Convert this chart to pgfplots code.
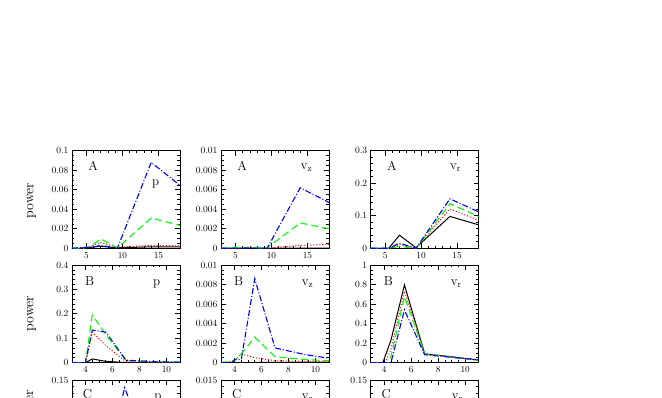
\documentclass[border=0pt]{standalone}
\usepackage{pgfplots}
\pgfplotsset{compat=1.18}
\definecolor{pgreen}{rgb}{0,1,0}
\definecolor{pblue}{rgb}{0,0,1}
\definecolor{pred}{rgb}{1,0,0}
\pgfplotsset{
  panel/.style={scale only axis, width=108pt, height=97.6pt, anchor=north west,
    tick align=inside, major tick length=5pt, minor tick length=2.5pt,
    axis line style={line width=0.8pt}, every tick/.style={black, line width=0.6pt},
    tick label style={font=\fontsize{9.5}{10}\selectfont},
    scaled ticks=false, ymin=0, clip=true,
    xticklabel style={yshift=-0.5pt}},
  rowA/.style={xmin=3, xmax=18, xtick={5,10,15}, minor x tick num=4},
  rowB/.style={xmin=3, xmax=11, xtick={4,6,8,10}, minor x tick num=3},
  blk/.style={black, line width=1pt},
  rdd/.style={pred, line width=1.4pt, line cap=round, dash pattern=on 0pt off 3pt},
  grn/.style={pgreen, line width=1.1pt, dash pattern=on 7pt off 4pt},
  blu/.style={pblue, line width=1.1pt, dash pattern=on 6pt off 2pt on 1pt off 2pt},
}
\tikzset{lab/.style={font=\fontsize{13}{14}\selectfont, anchor=base west, inner sep=0pt}}
\begin{document}
\begin{tikzpicture}
\path[use as bounding box] (0pt,0pt) rectangle (662pt,-398pt);
\clip (0pt,0pt) rectangle (662pt,-398pt);

% ylabels
\node[rotate=90, font=\fontsize{14}{16}\selectfont] at (31.5pt,-200.5pt) {power};
\node[rotate=90, font=\fontsize{14}{16}\selectfont] at (31.5pt,-313.5pt) {power};
\node[rotate=90, font=\fontsize{14}{16}\selectfont, anchor=south east, inner sep=0pt] at (36pt,-389.5pt) {power};

% ---------------- Row A ----------------
\begin{axis}[panel, rowA, at={(72pt,-150.7pt)}, ymax=0.1, ytick={0,0.02,0.04,0.06,0.08,0.1},
  yticklabels={0,0.02,0.04,0.06,0.08,0.1}, minor y tick num=3]
\addplot[blk] coordinates {(3,0)(4,0)(4.5,0.0005)(5.5,0.001)(7,0.002)(9.3,0.0005)(14,0.0015)(18,0.0015)};
\addplot[rdd] coordinates {(3,0)(4,0)(4.5,0)(5.5,0.002)(7,0.006)(9.3,0.001)(14,0.003)(18,0.0025)};
\addplot[grn] coordinates {(3,0)(4.5,0)(5.5,0.002)(7,0.0095)(9.3,0.0005)(14,0.031)(18,0.0235)};
\addplot[blu] coordinates {(3,0)(4,0.0005)(4.5,0.001)(5.5,0.0005)(7,0.003)(9.3,0)(14,0.088)(18,0.0645)};
\node[lab] at (axis description cs:0.15,0.795) {A};
\node[lab] at (axis description cs:0.741,0.645) {p};
\end{axis}

\begin{axis}[panel, rowA, at={(221pt,-150.7pt)}, ymax=0.01, ytick={0,0.002,0.004,0.006,0.008,0.01},
  yticklabels={0,0.002,0.004,0.006,0.008,0.01}, minor y tick num=3]
\addplot[blk] coordinates {(3,0)(7,0.00003)(9.3,0)(14,0.00003)(18,0.00003)};
\addplot[rdd] coordinates {(3,0)(5.5,0)(7,0.0001)(9.3,0)(14,0.0003)(18,0.0004)};
\addplot[grn] coordinates {(3,0)(5.5,0.0001)(7,0.0001)(9.3,0)(14,0.0026)(18,0.002)};
\addplot[blu] coordinates {(3,0)(7,0.00003)(9.4,0)(14,0.0062)(18,0.0047)};
\node[lab] at (axis description cs:0.15,0.795) {A};
\node[lab] at (axis description cs:0.738,0.81) {v$_{\mathrm{z}}$};
\end{axis}

\begin{axis}[panel, rowA, at={(370.7pt,-150.7pt)}, ymax=0.3, ytick={0,0.1,0.2,0.3},
  yticklabels={0,0.1,0.2,0.3}, minor y tick num=4]
\addplot[blk] coordinates {(3,0)(5.5,0)(7,0.04)(9.3,0.002)(14,0.098)(18,0.072)};
\addplot[rdd] coordinates {(3,0)(5.5,0)(7,0.012)(9.3,0.001)(14,0.121)(18,0.086)};
\addplot[grn] coordinates {(3,0)(5.5,0)(7,0.006)(9.3,0)(14,0.137)(18,0.098)};
\addplot[blu] coordinates {(3,0)(5.5,0)(7,0.016)(9.3,0)(14,0.152)(18,0.112)};
\node[lab] at (axis description cs:0.15,0.795) {A};
\node[lab] at (axis description cs:0.734,0.81) {v$_{\mathrm{r}}$};
\end{axis}

% ---------------- Row B ----------------
\begin{axis}[panel, rowB, at={(72pt,-265pt)}, ymax=0.4, ytick={0,0.1,0.2,0.3,0.4},
  yticklabels={0,0.1,0.2,0.3,0.4}, minor y tick num=4]
\addplot[blk] coordinates {(3,0)(4,0)(4.5,0.015)(5.5,0.005)(7,0)(11,0)};
\addplot[rdd] coordinates {(3,0)(4,0)(4.5,0.125)(5.5,0.07)(7,0.003)(9.3,0.002)(11,0.002)};
\addplot[grn] coordinates {(3,0)(4,0)(4.5,0.195)(5.5,0.115)(7,0.008)(9.3,0.004)(11,0.003)};
\addplot[blu] coordinates {(3,0)(4,0)(4.5,0.133)(5.5,0.125)(7,0.01)(9.3,0.003)(11,0.002)};
\node[lab] at (axis description cs:0.12,0.795) {B};
\node[lab] at (axis description cs:0.75,0.79) {p};
\end{axis}

\begin{axis}[panel, rowB, at={(221pt,-265pt)}, ymax=0.01, ytick={0,0.002,0.004,0.006,0.008,0.01},
  yticklabels={0,0.002,0.004,0.006,0.008,0.01}, minor y tick num=3]
\addplot[blk] coordinates {(3,0)(11,0.00003)};
\addplot[rdd] coordinates {(3,0)(4,0.0002)(4.5,0.0009)(5.5,0.0005)(7,0.0002)(9.3,0.0001)(11,0.0001)};
\addplot[grn] coordinates {(3,0)(4,0.0002)(4.5,0.0009)(5.5,0.0026)(7,0.0006)(9.3,0.0003)(11,0.0002)};
\addplot[blu] coordinates {(3,0)(3.8,0)(4,0.0003)(4.5,0.0003)(5.5,0.0086)(7,0.0015)(9.3,0.0008)(11,0.00045)};
\node[lab] at (axis description cs:0.12,0.795) {B};
\node[lab] at (axis description cs:0.747,0.79) {v$_{\mathrm{z}}$};
\end{axis}

\begin{axis}[panel, rowB, at={(370.7pt,-265pt)}, ymax=1, ytick={0,0.2,0.4,0.6,0.8,1},
  yticklabels={0,0.2,0.4,0.6,0.8,1}, minor y tick num=3]
\addplot[blk] coordinates {(3,0)(3.9,0)(4.5,0.23)(5.5,0.795)(7,0.09)(9.3,0.055)(11,0.025)};
\addplot[rdd] coordinates {(3,0)(4.1,0)(4.5,0.14)(5.5,0.73)(7,0.09)(9.3,0.05)(11,0.022)};
\addplot[grn] coordinates {(3,0)(4.3,0)(4.5,0.06)(5.5,0.675)(7,0.09)(9.3,0.05)(11,0.027)};
\addplot[blu] coordinates {(3,0)(4.5,0)(5.5,0.54)(7,0.08)(9.3,0.05)(11,0.03)};
\node[lab] at (axis description cs:0.12,0.795) {B};
\node[lab] at (axis description cs:0.74,0.79) {v$_{\mathrm{r}}$};
\end{axis}

% ---------------- Row C ----------------
\begin{axis}[panel, rowB, at={(72pt,-380pt)}, ymax=0.15, ytick={0,0.05,0.1,0.15},
  yticklabels={0,0.05,0.1,0.15}, minor y tick num=4]
\addplot[blu] coordinates {(3,0)(4.5,0.002)(5.5,0.016)(6.9,0.138)(9.3,0.008)(11,0.003)};
\node[lab] at (axis description cs:0.10,0.81) {C};
\node[lab] at (axis description cs:0.76,0.80) {p};
\end{axis}

\begin{axis}[panel, rowB, at={(221pt,-380pt)}, ymax=0.015, ytick={0,0.005,0.01,0.015},
  yticklabels={0,0.005,0.01,0.015}, minor y tick num=4]
\node[lab] at (axis description cs:0.10,0.81) {C};
\node[lab] at (axis description cs:0.748,0.80) {v$_{\mathrm{z}}$};
\end{axis}

\begin{axis}[panel, rowB, at={(370.7pt,-380pt)}, ymax=0.15, ytick={0,0.05,0.1,0.15},
  yticklabels={0,0.05,0.1,0.15}, minor y tick num=4]
\node[lab] at (axis description cs:0.10,0.81) {C};
\node[lab] at (axis description cs:0.75,0.80) {v$_{\mathrm{r}}$};
\end{axis}
\end{tikzpicture}
\end{document}
